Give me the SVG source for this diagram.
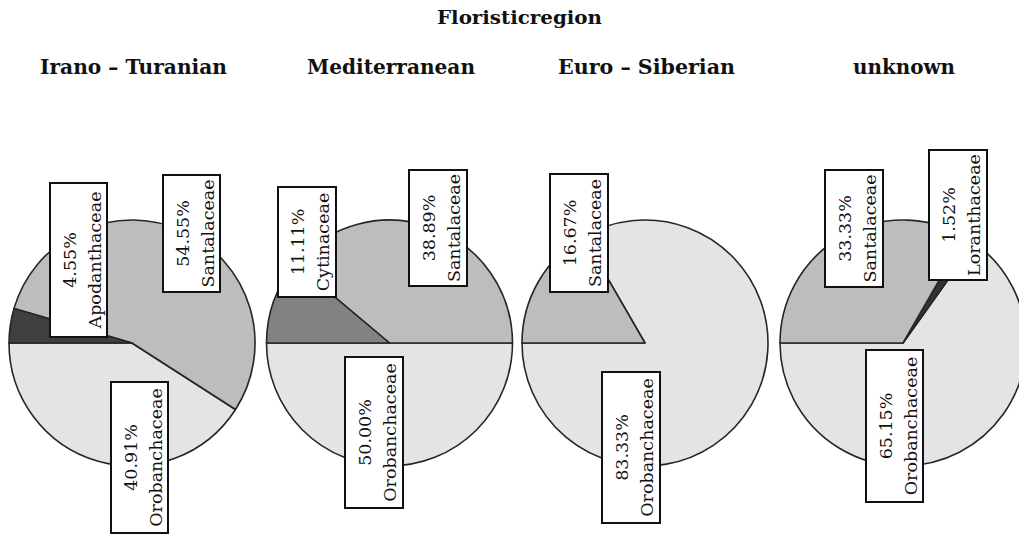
<svg xmlns="http://www.w3.org/2000/svg" width="1019" height="540" viewBox="0 0 1019 540">
<style>
.t{font-family:"DejaVu Serif","Liberation Serif",serif;font-weight:bold;fill:#111;text-anchor:middle}
.ti{font-size:19px}
.st{font-size:21px}
.s{stroke:#262626;stroke-width:1.6;stroke-linejoin:round}
.oro{fill:#e4e4e4}
.san{fill:#bdbdbd}
.apo{fill:#3f3f3f}
.cyt{fill:#828282}
.lor{fill:#333333}
.box{fill:#fff;stroke:#111;stroke-width:2}
.lb{font-family:"DejaVu Serif","Liberation Serif",serif;font-size:17.5px;fill:#111;text-anchor:middle}
</style>
<rect width="1019" height="540" fill="#fff"/>
<g id="titles">
<text class="t ti" x="519.5" y="24" textLength="165" lengthAdjust="spacingAndGlyphs">Floristicregion</text>
<text class="t st" x="133.5" y="74" textLength="187" lengthAdjust="spacingAndGlyphs">Irano – Turanian</text>
<text class="t st" x="391" y="74" textLength="168" lengthAdjust="spacingAndGlyphs">Mediterranean</text>
<text class="t st" x="646.5" y="74" textLength="177" lengthAdjust="spacingAndGlyphs">Euro – Siberian</text>
<text class="t st" x="904" y="74" textLength="102" lengthAdjust="spacingAndGlyphs">unknown</text>
</g>
<g id="pie-irano-turanian" class="s">
<path class="oro" d="M132,343 L9,343 A123,123 0 0 0 235.5,409.5 Z"/>
<path class="san" d="M132,343 L235.5,409.5 A123,123 0 1 0 14,308.4 Z"/>
<path class="apo" d="M132,343 L14,308.4 A123,123 0 0 0 9,343 Z"/>
</g>
<g id="pie-mediterranean" class="s">
<path class="oro" d="M389.5,343 L266.5,343 A123,123 0 0 0 512.5,343 Z"/>
<path class="san" d="M389.5,343 L512.5,343 A123,123 0 0 0 295.3,263.9 Z"/>
<path class="cyt" d="M389.5,343 L295.3,263.9 A123,123 0 0 0 266.5,343 Z"/>
</g>
<g id="pie-euro-siberian" class="s">
<path class="oro" d="M645,343 L522,343 A123,123 0 1 0 583.5,236.5 Z"/>
<path class="san" d="M645,343 L583.5,236.5 A123,123 0 0 0 522,343 Z"/>
</g>
<g id="pie-unknown" class="s">
<path class="oro" d="M903,343 L780,343 A123,123 0 1 0 974.4,242.8 Z"/>
<path class="lor" d="M903,343 L974.4,242.8 A123,123 0 0 0 964.5,236.5 Z"/>
<path class="san" d="M903,343 L964.5,236.5 A123,123 0 0 0 780,343 Z"/>
</g>
<g id="label-it-apodanthaceae">
<rect class="box" x="50" y="183" width="57" height="154"/>
<g transform="translate(78.5,260) rotate(-90)"><text class="lb" x="0" y="-3">4.55%</text><text class="lb" x="0" y="22">Apodanthaceae</text></g>
</g>
<g id="label-it-santalaceae">
<rect class="box" x="163" y="175" width="57" height="117"/>
<g transform="translate(191.5,233.5) rotate(-90)"><text class="lb" x="0" y="-3">54.55%</text><text class="lb" x="0" y="22">Santalaceae</text></g>
</g>
<g id="label-it-orobanchaceae">
<rect class="box" x="111" y="382" width="57" height="151"/>
<g transform="translate(139.5,457.5) rotate(-90)"><text class="lb" x="0" y="-3">40.91%</text><text class="lb" x="0" y="22">Orobanchaceae</text></g>
</g>
<g id="label-me-cytinaceae">
<rect class="box" x="278" y="187" width="58" height="110"/>
<g transform="translate(307,242) rotate(-90)"><text class="lb" x="0" y="-3">11.11%</text><text class="lb" x="0" y="22">Cytinaceae</text></g>
</g>
<g id="label-me-santalaceae">
<rect class="box" x="409" y="170" width="58" height="116"/>
<g transform="translate(438,228) rotate(-90)"><text class="lb" x="0" y="-3">38.89%</text><text class="lb" x="0" y="22">Santalaceae</text></g>
</g>
<g id="label-me-orobanchaceae">
<rect class="box" x="345" y="357" width="58" height="151"/>
<g transform="translate(374,432.5) rotate(-90)"><text class="lb" x="0" y="-3">50.00%</text><text class="lb" x="0" y="22">Orobanchaceae</text></g>
</g>
<g id="label-es-santalaceae">
<rect class="box" x="550" y="174" width="58" height="118"/>
<g transform="translate(579,233) rotate(-90)"><text class="lb" x="0" y="-3">16.67%</text><text class="lb" x="0" y="22">Santalaceae</text></g>
</g>
<g id="label-es-orobanchaceae">
<rect class="box" x="602" y="372" width="58" height="151"/>
<g transform="translate(631,447.5) rotate(-90)"><text class="lb" x="0" y="-3">83.33%</text><text class="lb" x="0" y="22">Orobanchaceae</text></g>
</g>
<g id="label-un-santalaceae">
<rect class="box" x="825" y="170" width="58" height="117"/>
<g transform="translate(854,228.5) rotate(-90)"><text class="lb" x="0" y="-3">33.33%</text><text class="lb" x="0" y="22">Santalaceae</text></g>
</g>
<g id="label-un-loranthaceae">
<rect class="box" x="929" y="150" width="58" height="130"/>
<g transform="translate(958,215) rotate(-90)"><text class="lb" x="0" y="-3">1.52%</text><text class="lb" x="0" y="22">Loranthaceae</text></g>
</g>
<g id="label-un-orobanchaceae">
<rect class="box" x="866" y="350" width="57" height="152"/>
<g transform="translate(894.5,426) rotate(-90)"><text class="lb" x="0" y="-3">65.15%</text><text class="lb" x="0" y="22">Orobanchaceae</text></g>
</g>
</svg>
